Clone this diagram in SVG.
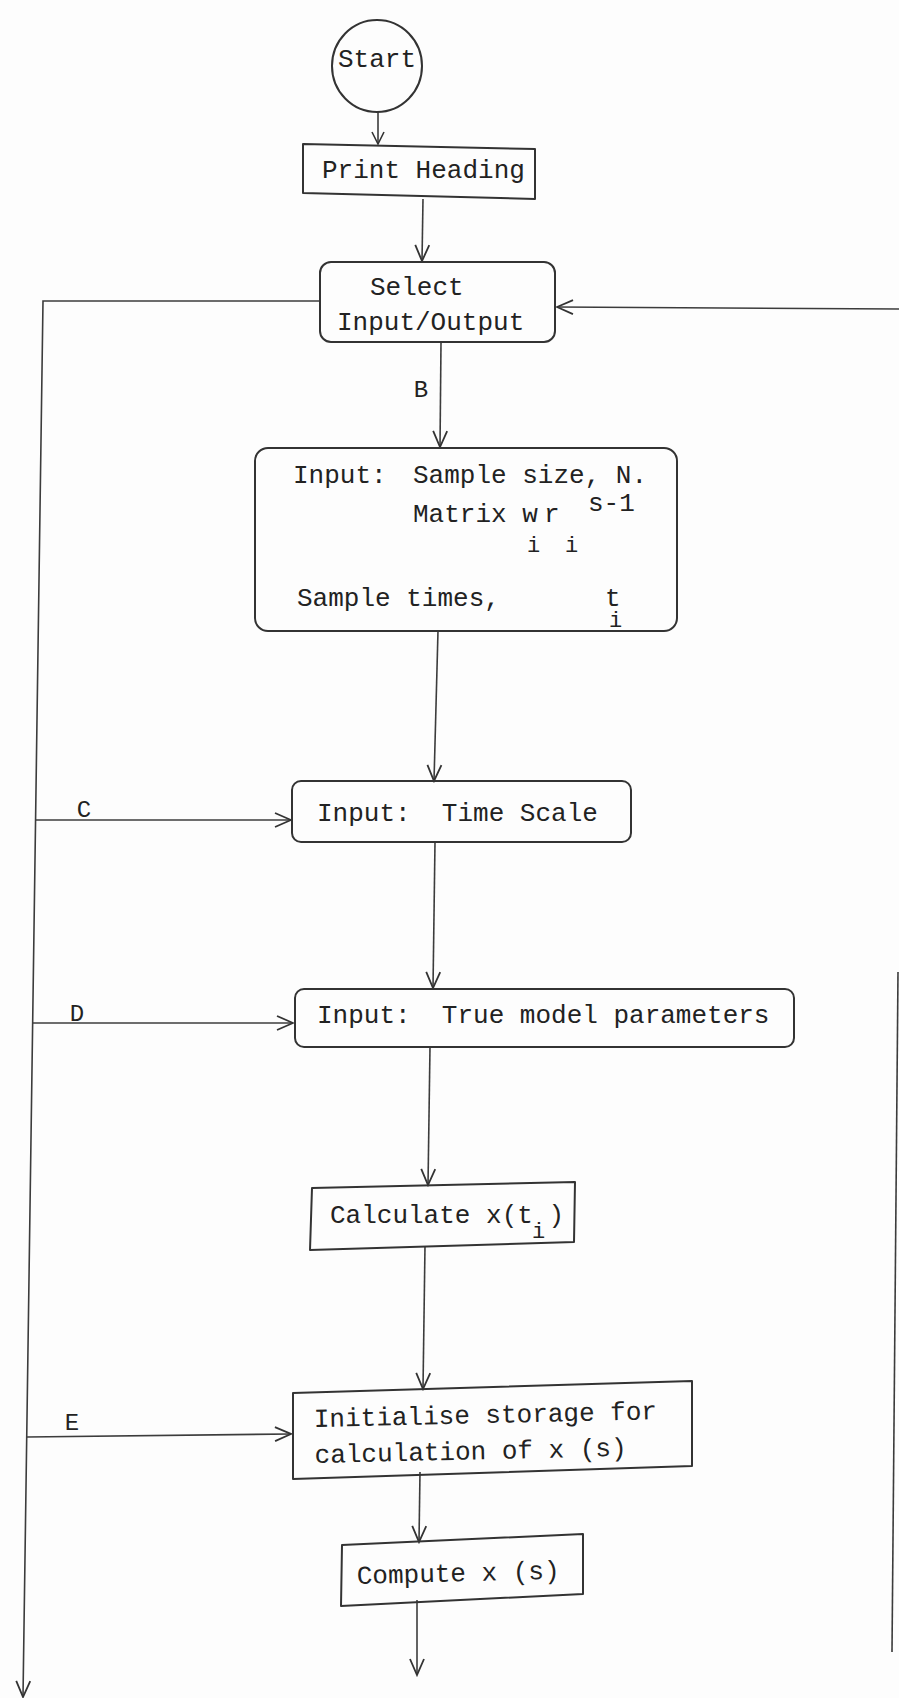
<svg xmlns="http://www.w3.org/2000/svg" width="899" height="1698" viewBox="0 0 899 1698">
<style>
.bg{fill:#fdfdfd}
.box{fill:none;stroke:#333;stroke-width:2;stroke-linejoin:round}
.ln{fill:none;stroke:#3c3c3c;stroke-width:1.6}
.t{font-family:"Liberation Mono","DejaVu Sans Mono",monospace;font-size:26px;fill:#222;white-space:pre}
.s{font-family:"Liberation Mono","DejaVu Sans Mono",monospace;font-size:22px;fill:#222}
.lb{font-family:"Liberation Mono","DejaVu Sans Mono",monospace;font-size:24px;fill:#222;text-anchor:middle}
</style>
<defs>
<marker id="ah" markerUnits="userSpaceOnUse" markerWidth="20" markerHeight="20" viewBox="0 0 20 20" refX="18" refY="10" orient="auto">
<path d="M2,3 L18,10 L2,17" fill="none" stroke="#333" stroke-width="1.8"/>
</marker>
<marker id="ahs" markerUnits="userSpaceOnUse" markerWidth="16" markerHeight="16" viewBox="0 0 16 16" refX="14" refY="8" orient="auto">
<path d="M2,2 L14,8 L2,14" fill="none" stroke="#333" stroke-width="1.6"/>
</marker>
</defs>
<rect class="bg" x="0" y="0" width="899" height="1698"/>

<g id="connectors">
<line class="ln" x1="378" y1="112" x2="378" y2="144" marker-end="url(#ahs)"/>
<line class="ln" x1="423" y1="199" x2="422" y2="261" marker-end="url(#ah)"/>
<line class="ln" x1="441" y1="343" x2="440" y2="447" marker-end="url(#ah)"/>
<line class="ln" x1="438" y1="631" x2="434" y2="781" marker-end="url(#ah)"/>
<line class="ln" x1="435" y1="842" x2="433" y2="988" marker-end="url(#ah)"/>
<line class="ln" x1="430" y1="1047" x2="428" y2="1185" marker-end="url(#ah)"/>
<line class="ln" x1="425" y1="1246" x2="423" y2="1389" marker-end="url(#ah)"/>
<line class="ln" x1="420" y1="1472" x2="419" y2="1542" marker-end="url(#ah)"/>
<line class="ln" x1="417" y1="1600" x2="417" y2="1675" marker-end="url(#ah)"/>
<polyline class="ln" points="320,301 43,301 23,1697" marker-end="url(#ah)"/>
<line class="ln" x1="899" y1="309" x2="557" y2="307" marker-end="url(#ah)"/>
<line class="ln" x1="898" y1="972" x2="892" y2="1652"/>
<line class="ln" x1="36" y1="820" x2="291" y2="820" marker-end="url(#ah)"/>
<line class="ln" x1="33" y1="1023" x2="293" y2="1023" marker-end="url(#ah)"/>
<line class="ln" x1="27" y1="1437" x2="291" y2="1434" marker-end="url(#ah)"/>
<text class="lb" x="84" y="817">C</text>
<text class="lb" x="77" y="1021">D</text>
<text class="lb" x="72" y="1430">E</text>
<text class="lb" x="421" y="397">B</text>
</g>

<g id="start">
<ellipse class="box" cx="377" cy="66" rx="45" ry="46"/>
<text class="t" x="377" y="67" text-anchor="middle">Start</text>
</g>

<g id="print-heading">
<polygon class="box" points="303,144 535,149 535,199 303,193"/>
<text class="t" x="322" y="178">Print Heading</text>
</g>

<g id="select-io">
<rect class="box" x="320" y="262" width="235" height="80" rx="11"/>
<text class="t" x="370" y="295">Select</text>
<text class="t" x="337" y="330">Input/Output</text>
</g>

<g id="input-sample">
<rect class="box" x="255" y="448" width="422" height="183" rx="13"/>
<text class="t" x="293" y="483">Input:</text>
<text class="t" x="413" y="483">Sample size, N.</text>
<text class="t" x="413" y="522">Matrix w</text>
<text class="s" x="527" y="552">i</text>
<text class="t" x="544" y="522">r</text>
<text class="s" x="565" y="552">i</text>
<text class="t" x="588" y="511">s-1</text>
<text class="t" x="297" y="606">Sample times,</text>
<text class="t" x="605" y="606">t</text>
<text class="s" x="609" y="627">i</text>
</g>

<g id="input-time-scale">
<rect class="box" x="292" y="781" width="339" height="61" rx="9"/>
<text class="t" x="317" y="821" xml:space="preserve">Input:  Time Scale</text>
</g>

<g id="input-true-model">
<rect class="box" x="295" y="989" width="499" height="58" rx="9"/>
<text class="t" x="317" y="1023" xml:space="preserve">Input:  True model parameters</text>
</g>

<g id="calculate">
<polygon class="box" points="312,1188 575,1182 574,1242 310,1250"/>
<text class="t" x="330" y="1223" xml:space="preserve">Calculate x(t )</text>
<text class="s" x="532" y="1238">i</text>
</g>

<g id="initialise">
<polygon class="box" points="293,1393 692,1381 692,1466 293,1479"/>
<g transform="rotate(-1.3 314 1427)">
<text class="t" x="314" y="1427">Initialise storage for</text>
<text class="t" x="314" y="1463">calculation of x (s)</text>
</g>
</g>

<g id="compute">
<polygon class="box" points="342,1545 583,1534 583,1594 341,1606"/>
<text class="t" x="357" y="1584" transform="rotate(-1.5 357 1584)">Compute x (s)</text>
</g>
</svg>
